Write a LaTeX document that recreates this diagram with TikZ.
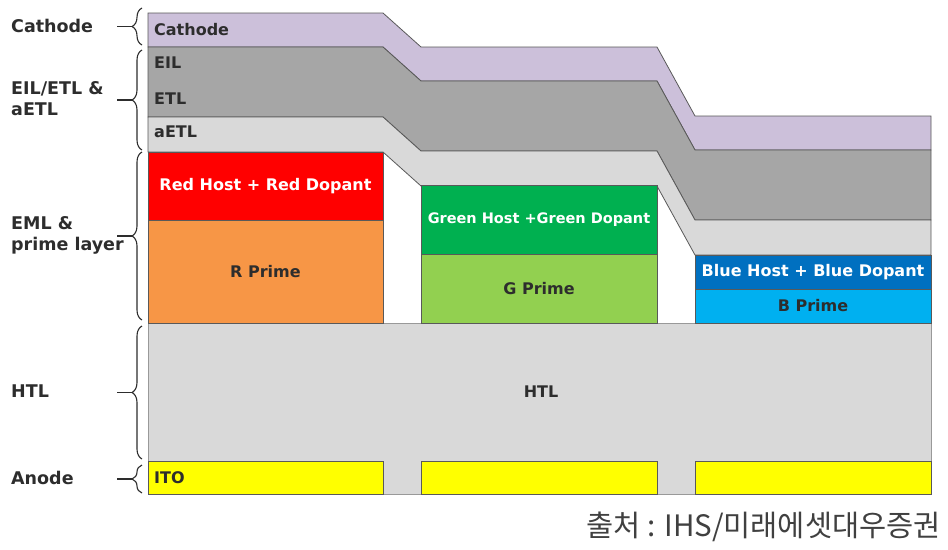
\documentclass[tikz,border=0pt]{standalone}
\usepackage{fontspec}
\setmainfont{DejaVu Sans}
\newfontfamily\krfont{Noto Sans CJK KR}
\usetikzlibrary{decorations.pathreplacing}
\definecolor{olcath}{RGB}{204,192,218}
\definecolor{oldark}{RGB}{166,166,166}
\definecolor{ollight}{RGB}{217,217,217}
\definecolor{olred}{RGB}{255,0,0}
\definecolor{olorange}{RGB}{247,150,70}
\definecolor{olgreen}{RGB}{0,176,80}
\definecolor{ollime}{RGB}{146,208,80}
\definecolor{olblue}{RGB}{0,112,192}
\definecolor{olsky}{RGB}{0,176,240}
\definecolor{olyellow}{RGB}{255,255,0}
\definecolor{oltext}{RGB}{45,45,45}
\tikzset{
  layerline/.style={draw=black!65,line width=0.8pt},
  blockbox/.style={layerline,inner sep=0pt,outer sep=0pt,font=\bfseries\fontsize{16}{19}\selectfont},
  sidefont/.style={font=\bfseries\fontsize{17.5}{21}\selectfont,text=oltext,align=left,anchor=west,inner sep=0pt},
  infont/.style={font=\bfseries\fontsize{16}{19}\selectfont,text=oltext,anchor=west,inner sep=0pt},
  bracepen/.style={draw=oltext,line width=1.1pt},
}
% one sloped layer between two depths (left column values)
\newcommand{\oband}[3]{%
  \filldraw[layerline,fill=#3] (148,#1) -- (383,#1) -- (421,{#1+34}) -- (657,{#1+34})
    -- (695,{#1+103}) -- (931,{#1+103}) -- (931,{#2+103}) -- (695,{#2+103})
    -- (657,{#2+34}) -- (421,{#2+34}) -- (383,#2) -- (148,#2) -- cycle;}
% block: name, centre x, centre y, width, height, colour, text colour, text
\newcommand{\oblock}[8]{%
  \node[blockbox,fill=#6,text=#7,minimum width=#4pt,minimum height=#5pt] (#1) at (#2,#3) {#8};}
% brace: name, top, bottom, label
\newcommand{\obrace}[4]{%
  \draw[bracepen,decorate,decoration={brace,amplitude=10pt}] (142,#3) -- (142,#2);
  \draw[bracepen] (132,{(#2+#3)/2}) -- (117,{(#2+#3)/2});
  \node[sidefont] (#1) at (11,{(#2+#3)/2-1}) {#4};}

\begin{document}
\begin{tikzpicture}[x=1pt,y=-1pt]
  \useasboundingbox (0,0) rectangle (948,549);
  \oband{13}{47}{olcath}\oband{47}{117}{oldark}\oband{117}{152}{ollight}
  \filldraw[layerline,draw=black!40,fill=ollight] (148,323) rectangle (931,494);
  \oblock{redhost}{265.5}{186}{235}{68}{olred}{white}{Red Host + Red Dopant}
  \oblock{rprime}{265.5}{271.5}{235}{103}{olorange}{oltext}{R Prime}
  \oblock{greenhost}{539}{219.5}{236}{69}{olgreen}{white}{\fontsize{14.5}{17}\selectfont Green Host +Green Dopant}
  \oblock{gprime}{539}{288.5}{236}{69}{ollime}{oltext}{G Prime}
  \oblock{bluehost}{813}{272}{236}{34}{olblue}{white}{Blue Host + Blue Dopant}
  \oblock{bprime}{813}{306}{236}{34}{olsky}{oltext}{B Prime}
  \oblock{itoa}{265.5}{478}{235}{33}{olyellow}{oltext}{}
  \oblock{itob}{539}{478}{236}{33}{olyellow}{oltext}{}
  \oblock{itoc}{813}{478}{236}{33}{olyellow}{oltext}{}
  \node[infont] (cathin) at (154,30) {Cathode};
  \node[infont] (eilin) at (154,63) {EIL};
  \node[infont] (etlin) at (154,99) {ETL};
  \node[infont] (aetlin) at (154,132) {aETL};
  \node[infont] (itoin) at (154,478) {ITO};
  \node[infont,anchor=center] (htlin) at (541,392) {HTL};
  \obrace{cathode}{8}{45}{Cathode}
  \obrace{eil}{50}{150}{EIL/ETL \&\\aETL}
  \obrace{eml}{152}{320}{EML \&\\prime layer}
  \obrace{htl}{326}{459}{HTL}
  \obrace{anode}{465}{493}{Anode}
  \node[anchor=east,inner sep=0pt,text=black!75,font=\krfont\fontsize{29.5}{34}\selectfont] (source) at (941,527) {출처 : IHS/미래에셋대우증권};
\end{tikzpicture}
\end{document}
